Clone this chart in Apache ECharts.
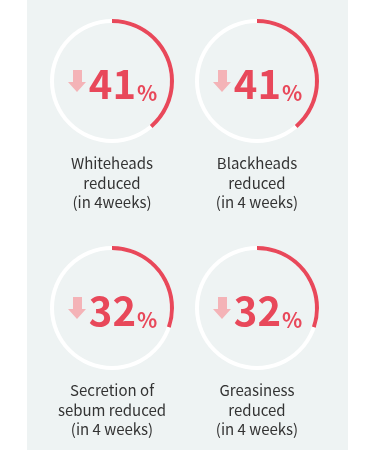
<!DOCTYPE html>
<html>
<head>
<meta charset="utf-8">
<script src="https://cdn.jsdelivr.net/npm/echarts@6/dist/echarts.min.js"></script>
<style>
  html, body { margin: 0; padding: 0; background: #fff; }
  #gaugeChart { width: 375px; height: 450px; }
</style>
</head>
<body>
<div id="gaugeChart"></div>
<script>
// data
const categories = [
  'Whiteheads\nreduced\n(in 4weeks)',
  'Blackheads\nreduced\n(in 4 weeks)',
  'Secretion of\nsebum reduced\n(in 4 weeks)',
  'Greasiness\nreduced\n(in 4 weeks)'
];
const values = [41, 41, 32, 32];
const gaugeMax = 106;

// layout
const centers = [[112, 81], [257, 81], [112, 308], [257, 308]];
const red = '#e8485a';
const font = '"Noto Sans CJK KR", "Noto Sans", sans-serif';

let chartContainer = document.getElementById('gaugeChart');
let myChart = echarts.init(chartContainer);

// light panel + arrows behind the numbers
let graphics = [{
  type: 'rect',
  z: -10,
  shape: { x: 27, y: 0, width: 321, height: 450 },
  style: { fill: '#eef3f3' }
}];
centers.forEach(function (c) {
  let x = c[0], y = c[1];
  graphics.push({
    type: 'polygon',
    shape: {
      points: [
        [x - 39, y - 11], [x - 30, y - 11], [x - 30, y + 1], [x - 26, y + 1],
        [x - 35, y + 11], [x - 44, y + 1], [x - 39, y + 1]
      ]
    },
    style: { fill: '#f4b3b7' }
  });
});

let series = categories.map(function (name, i) {
  return {
    type: 'gauge',
    center: centers[i],
    radius: 62,
    startAngle: 90,
    endAngle: -270,
    min: 0,
    max: gaugeMax,
    pointer: { show: false },
    progress: {
      show: true,
      width: 4,
      roundCap: false,
      itemStyle: { color: red }
    },
    axisLine: {
      lineStyle: { width: 4, color: [[1, '#ffffff']] }
    },
    axisTick: { show: false },
    splitLine: { show: false },
    axisLabel: { show: false },
    title: {
      offsetCenter: [0, 102],
      fontSize: 15,
      lineHeight: 19.5,
      color: '#333',
      fontFamily: font
    },
    detail: {
      offsetCenter: [11, 1],
      formatter: function (v) {
        return '{n|' + v + '}{p|%}';
      },
      rich: {
        n: {
          fontSize: 40,
          fontWeight: 'bold',
          color: red,
          fontFamily: font,
          lineHeight: 44,
          verticalAlign: 'bottom'
        },
        p: {
          fontSize: 21,
          color: red,
          fontFamily: font,
          lineHeight: 44,
          verticalAlign: 'bottom',
          padding: [0, 0, 0, 1]
        }
      }
    },
    data: [{ value: values[i], name: name }]
  };
});

let option = {
  animation: false,
  backgroundColor: '#ffffff',
  graphic: graphics,
  series: series
};

myChart.setOption(option);
</script>
</body>
</html>
